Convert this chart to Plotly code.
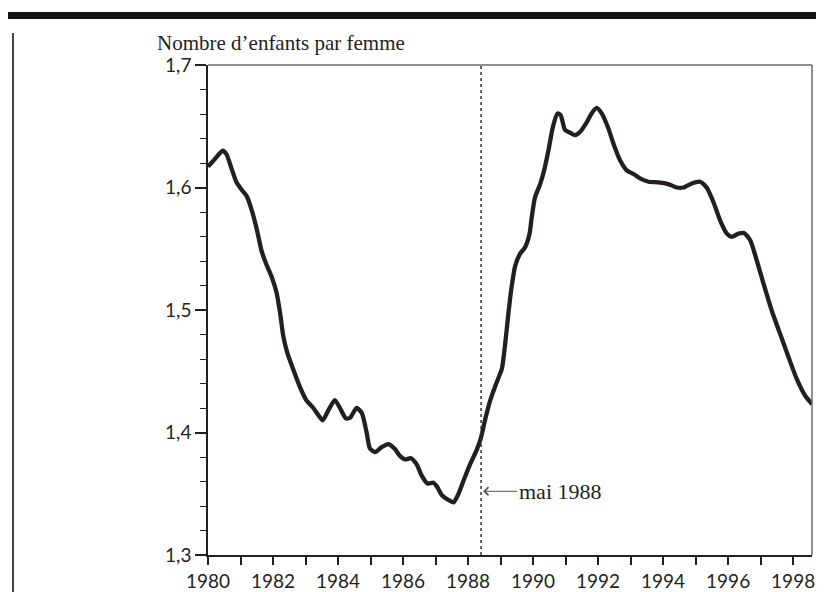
import plotly.graph_objects as go

# ---- data ----
years = [1980.00, 1980.22, 1980.45, 1980.57, 1980.73, 1980.88, 1981.04, 1981.19, 1981.34, 1981.50,
         1981.65, 1981.80, 1981.96, 1982.11, 1982.22, 1982.32, 1982.44, 1982.63, 1982.83, 1983.02,
         1983.24, 1983.40, 1983.53, 1983.70, 1983.90, 1984.06, 1984.24, 1984.37, 1984.57, 1984.73,
         1984.88, 1984.98, 1985.14, 1985.34, 1985.55, 1985.75, 1985.90, 1986.06, 1986.24, 1986.42,
         1986.57, 1986.75, 1986.93, 1987.04, 1987.19, 1987.39, 1987.55, 1987.70, 1987.88, 1988.06,
         1988.27, 1988.40, 1988.52, 1988.68, 1988.88, 1989.04, 1989.14, 1989.24, 1989.34, 1989.45,
         1989.60, 1989.75, 1989.89, 1989.96, 1990.06, 1990.22, 1990.34, 1990.47, 1990.61, 1990.75,
         1990.85, 1990.98, 1991.14, 1991.29, 1991.45, 1991.63, 1991.80, 1991.96, 1992.11, 1992.32,
         1992.47, 1992.68, 1992.88, 1993.09, 1993.29, 1993.55, 1993.86, 1994.16, 1994.42, 1994.62,
         1994.88, 1995.14, 1995.34, 1995.55, 1995.75, 1995.96, 1996.11, 1996.32, 1996.49, 1996.68,
         1996.88, 1997.09, 1997.34, 1997.60, 1997.86, 1998.11, 1998.37, 1998.58]
fertility = [1.617, 1.6235, 1.630, 1.627, 1.615, 1.604, 1.598, 1.593, 1.582, 1.566,
             1.548, 1.537, 1.527, 1.514, 1.497, 1.478, 1.465, 1.451, 1.437, 1.4265,
             1.420, 1.414, 1.410, 1.418, 1.4265, 1.420, 1.4115, 1.412, 1.420, 1.416,
             1.400, 1.387, 1.384, 1.388, 1.3905, 1.3865, 1.381, 1.378, 1.379, 1.374,
             1.365, 1.3584, 1.359, 1.356, 1.349, 1.345, 1.343, 1.3496, 1.362, 1.374,
             1.386, 1.396, 1.410, 1.426, 1.441, 1.452, 1.472, 1.497, 1.519, 1.536,
             1.546, 1.551, 1.562, 1.576, 1.592, 1.603, 1.614, 1.630, 1.6495, 1.6605,
             1.659, 1.647, 1.6447, 1.6427, 1.6455, 1.6523, 1.6605, 1.6650, 1.6605, 1.648,
             1.636, 1.622, 1.614, 1.611, 1.6074, 1.6047, 1.6042, 1.6028, 1.600, 1.600,
             1.6033, 1.6047, 1.600, 1.588, 1.5734, 1.5623, 1.5597, 1.5623, 1.5629, 1.557,
             1.5405, 1.5214, 1.4996, 1.4805, 1.4614, 1.4437, 1.430, 1.4233]

event_date = 1988.40          # mai 1988
event_label = "mai 1988"
event_label_y = 1.352
y_title = "Nombre d\u2019enfants par femme"
x_tickvals = [1980, 1982, 1984, 1986, 1988, 1990, 1992, 1994, 1996, 1998]
y_tickvals = [1.3, 1.4, 1.5, 1.6, 1.7]

INK = "#231f20"
W, H = 824, 592
ML, MR, MT, MB = 208, 12, 65, 37
PW, PH = W - ML - MR, H - MT - MB


def px_x(p):
    return (p - ML) / PW


def px_y(p):
    return (H - MB - p) / PH


fig = go.Figure()
fig.add_trace(go.Scatter(
    x=years, y=fertility, mode="lines",
    line=dict(color=INK, width=4.3, shape="spline", smoothing=0.6),
    hoverinfo="skip", showlegend=False, cliponaxis=False,
))

tickfont = dict(family="Lato, 'Open Sans', sans-serif", size=19, color=INK)

fig.update_layout(
    width=W, height=H,
    margin=dict(l=ML, r=MR, t=MT, b=MB, pad=0, autoexpand=False),
    paper_bgcolor="white", plot_bgcolor="white",
    separators=", ",
    showlegend=False,
    xaxis=dict(
        range=[1980, 1998.58], tickmode="array", tickvals=x_tickvals, automargin=False,
        ticklabeloverflow="allow",
        ticks="outside", ticklen=8, tickwidth=1.5, tickcolor=INK,
        showline=True, linecolor=INK, linewidth=1.5,
        showgrid=False, zeroline=False, tickfont=tickfont,
        minor=dict(dtick=1, tick0=1980, ticks="outside", ticklen=8, tickwidth=1.5,
                   tickcolor=INK, showgrid=False),
    ),
    yaxis=dict(
        range=[1.3, 1.7], tickmode="array", tickvals=y_tickvals, tickformat=".1f", automargin=False,
        ticks="outside", ticklen=11, tickwidth=1.5, tickcolor=INK,
        showline=True, linecolor=INK, linewidth=1.5,
        showgrid=False, zeroline=False, tickfont=tickfont,
        minor=dict(dtick=0.02, tick0=1.3, ticks="outside", ticklen=6, tickwidth=1.2,
                   tickcolor=INK, showgrid=False),
    ),
)

# frame: top and right borders (grey)
fig.add_shape(type="line", xref="x domain", yref="y domain", x0=0, x1=1, y0=1, y1=1,
              line=dict(color="#6a6a6a", width=1.5))
fig.add_shape(type="line", xref="x domain", yref="y domain", x0=1, x1=1, y0=0, y1=1,
              line=dict(color="#6a6a6a", width=1.5))

# dotted event line
fig.add_shape(type="line", xref="x", yref="y domain", x0=event_date, x1=event_date, y0=0, y1=1,
              line=dict(color="#333333", width=1.5, dash="dot"))

# top thick bar and left rule
fig.add_shape(type="rect", xref="paper", yref="paper",
              x0=px_x(8), x1=px_x(816), y0=px_y(19), y1=px_y(12),
              line=dict(width=0), fillcolor="#111111")
fig.add_shape(type="line", xref="paper", yref="paper",
              x0=px_x(13), x1=px_x(13), y0=px_y(33), y1=px_y(600),
              line=dict(color="#444444", width=2))

# y axis title
fig.add_annotation(xref="paper", yref="paper", x=px_x(155), y=px_y(43),
                   xanchor="left", yanchor="middle", showarrow=False,
                   text=y_title,
                   font=dict(family="'Liberation Serif', 'DejaVu Serif', serif", size=21, color=INK))

# event annotation
fig.add_annotation(x=event_date, y=event_label_y, xref="x", yref="y",
                   text=event_label, showarrow=True, ax=36, ay=0,
                   xanchor="left", yanchor="middle",
                   arrowhead=4, arrowsize=1.6, arrowwidth=1, arrowcolor="#555555",
                   standoff=2,
                   font=dict(family="'Liberation Serif', 'DejaVu Serif', serif", size=22, color=INK))

fig.write_html("out.html",
               config={"displayModeBar": False},
               post_script="document.body.style.margin='0';document.body.style.overflow='hidden';")
